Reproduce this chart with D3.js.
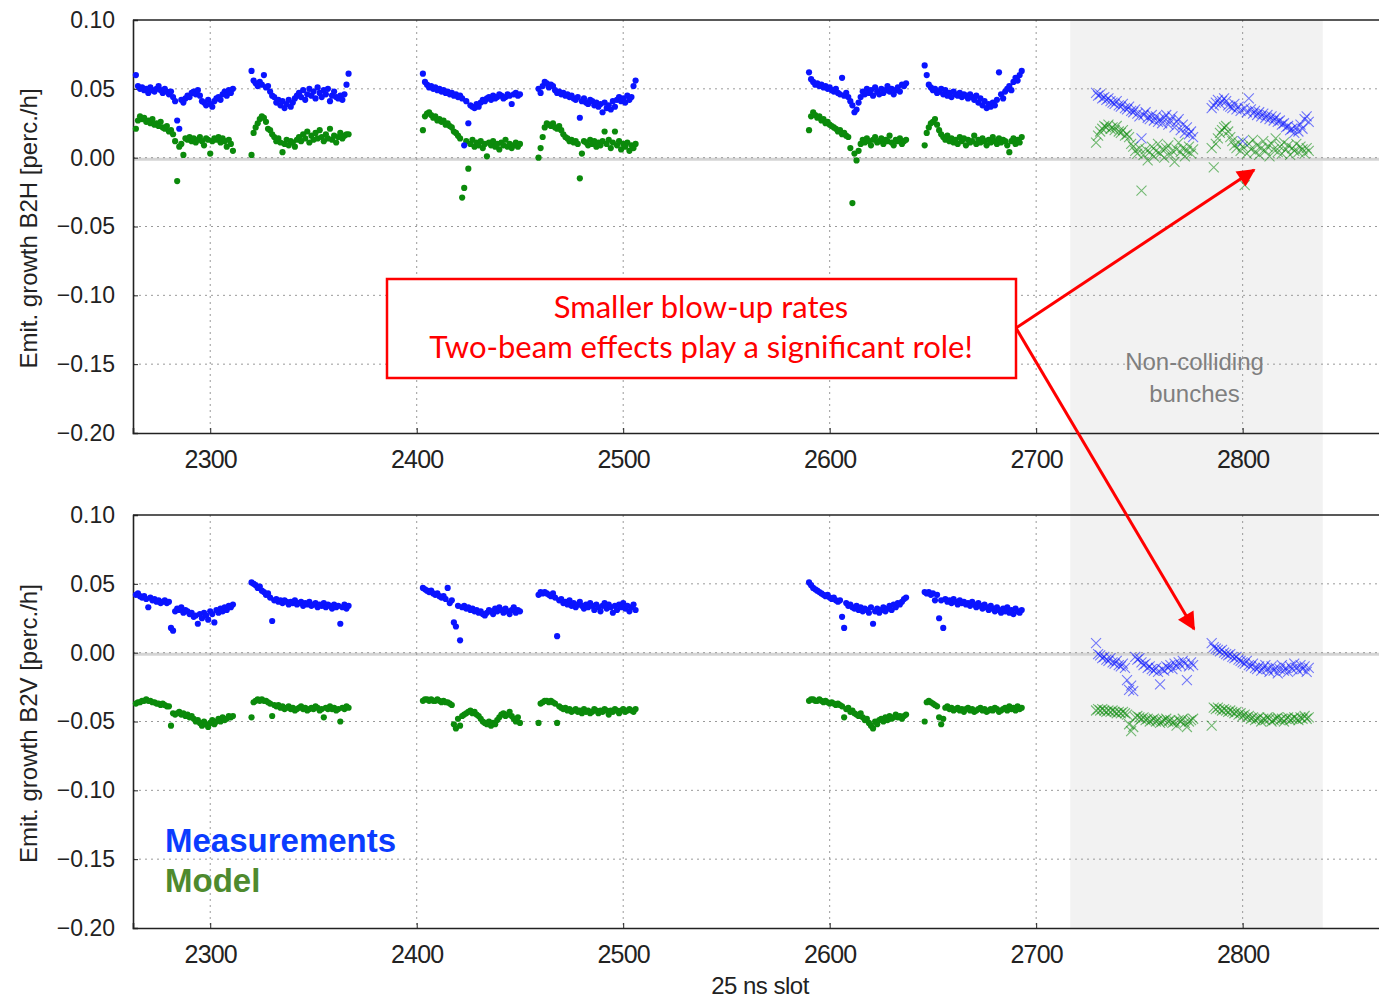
<!DOCTYPE html>
<html><head><meta charset="utf-8">
<script src="https://cdn.jsdelivr.net/npm/d3@7"></script>
<style>
html,body{margin:0;padding:0;background:#fff;}
svg{display:block;}
</style>
</head><body>
<svg id="chart" width="1379" height="1000"></svg>
<script>
// ---------------- DATA (values in 1e-3 perc./h) ----------------
const trainStarts = [2264, 2320, 2403, 2459, 2590, 2646, 2729, 2785];
const nonCollidingTrains = [6, 7];
const shadeSlots = [2716.5, 2838.8];
const xTicks = [2300, 2400, 2500, 2600, 2700, 2800];
const yTicks = [0.10, 0.05, 0.00, -0.05, -0.10, -0.15, -0.20];
const xLabel = "25 ns slot";
const yLabelTop = "Emit. growth B2H [perc./h]";
const yLabelBottom = "Emit. growth B2V [perc./h]";
const legendLabels = ["Measurements", "Model"];
const noteLines = ["Smaller blow-up rates", "Two-beam effects play a significant role!"];
const shadeLines = ["Non-colliding", "bunches"];

const b2hMeas = [
 [60,52,50,51,49,50,47,51,49,48,50,52,49,47,50,48,46,48,44,41,27,21,42,40,43,45,44,47,48,46,49,45,41,40,38,42,39,37,41,43,44,42,46,48,45,49,47,50],
 [63,56,54,52,55,53,60,51,52,48,45,44,40,42,38,41,36,39,42,37,40,43,45,47,44,49,42,46,50,45,48,43,51,47,44,49,46,50,41,45,48,44,43,45,42,46,53,61],
 [61,55,53,51,52,50,51,49,50,48,49,47,48,46,47,45,46,44,45,43,9,41,25,38,37,36,39,37,40,42,41,43,44,42,45,43,44,46,45,43,44,46,45,39,46,47,45,46],
 [50,47,52,55,54,51,53,52,49,47,48,46,47,45,46,44,45,43,42,44,29,41,43,40,39,42,41,38,40,37,39,33,40,36,38,35,41,37,42,44,41,43,40,45,42,44,52,56],
 [62,57,55,53,54,52,53,51,52,50,51,49,48,50,47,46,58,45,47,44,41,38,33,35,40,44,48,46,50,47,49,45,51,48,46,50,47,49,52,48,50,46,49,51,48,53,52,54],
 [67,60,53,51,49,50,47,48,50,46,49,45,47,44,48,46,45,47,44,46,45,43,46,44,42,45,40,43,38,41,36,39,37,40,38,42,62,46,43,48,50,52,49,55,58,56,60,63],
 [47,45,46,43,44,42,43,41,40,39,41,38,37,39,36,35,37,34,33,35,32,30,14,31,33,29,28,31,27,30,26,28,25,29,31,24,27,30,22,26,28,20,24,18,22,17,19,15],
 [36,38,40,42,39,41,43,41,38,37,36,39,35,37,34,12,36,33,43,35,32,34,31,33,30,32,29,31,28,30,27,29,26,27,24,25,22,23,20,21,18,22,19,24,21,28,30,26]
];
const b2hModel = [
 [21,27,30,28,29,26,27,25,28,24,25,23,26,22,21,23,19,20,17,12,-17,8,10,2,14,13,15,12,14,11,13,15,12,9,14,13,3,12,14,13,15,11,14,12,8,13,10,5],
 [2,18,22,25,28,30,29,26,21,20,17,15,12,14,11,4,10,13,9,12,11,8,13,15,12,17,14,19,11,16,13,18,14,20,15,12,17,14,21,13,16,11,15,18,14,16,17,17],
 [20,30,32,33,31,29,30,27,28,26,27,24,25,23,22,19,18,16,14,-29,-22,12,-8,10,13,8,11,9,12,7,10,1,11,9,12,8,10,6,11,9,13,8,10,7,9,11,8,10],
 [0,7,15,22,25,24,23,25,22,21,23,20,17,15,14,12,13,11,12,10,-15,3,12,11,9,13,10,12,8,11,9,12,19,10,13,7,11,19,9,12,6,10,8,11,5,9,7,10],
 [20,30,33,31,29,30,27,28,25,26,24,23,22,21,19,20,17,18,16,15,7,-33,3,-2,5,10,13,11,14,12,9,13,15,11,12,14,10,13,12,16,11,9,13,12,14,10,12,13],
 [9,18,22,25,26,28,24,20,17,15,13,16,12,14,11,13,10,15,12,14,9,13,11,12,16,10,13,11,14,12,9,13,11,15,12,10,14,11,13,12,9,4,12,14,10,13,11,15],
 [11,16,19,21,23,22,24,21,22,20,23,19,18,20,16,17,15,10,8,5,3,7,-24,2,6,-2,4,8,1,5,10,3,6,0,7,9,2,5,-3,6,11,4,7,1,5,8,3,6],
 [7,-7,10,14,18,20,22,23,19,15,12,9,7,11,5,8,-20,3,10,6,13,4,9,2,7,12,5,8,1,10,6,14,4,8,3,11,6,9,2,7,5,10,4,8,6,3,7,5]
];
const b2vMeas = [
 [42,43,41,40,41,39,33,40,38,39,37,38,36,37,38,36,37,18,16,30,32,31,33,29,31,30,28,29,26,27,21,28,25,29,27,24,30,28,22,31,29,32,30,33,31,34,33,35],
 [51,50,49,47,48,45,44,42,43,40,23,38,39,37,38,36,38,37,35,37,36,38,35,36,37,34,36,35,37,34,35,36,33,35,34,36,33,35,34,32,35,33,34,21,33,35,32,34],
 [47,46,45,44,45,43,42,43,41,40,41,39,47,36,38,22,19,34,9,33,34,32,33,31,32,30,31,29,30,28,27,29,31,30,28,32,30,33,31,29,32,30,28,31,33,29,31,30],
 [42,44,43,44,43,42,41,43,40,12,38,39,36,37,35,38,34,36,33,35,37,34,32,35,33,36,34,31,35,33,30,34,36,32,35,33,29,34,31,35,33,36,32,34,30,33,35,31],
 [51,49,47,46,45,44,43,42,41,42,40,39,40,38,37,38,26,18,36,34,35,33,32,34,31,33,30,32,31,29,33,21,30,32,29,31,33,30,32,34,31,35,33,36,35,37,39,40],
 [44,43,44,42,43,38,42,25,38,18,39,37,38,36,39,37,35,38,36,37,35,36,34,37,35,33,36,34,32,35,33,31,34,32,30,33,31,29,32,30,33,29,31,28,32,30,29,31],
 [7,-1,-2,-4,-3,-5,-6,-4,-7,-8,-6,-9,-10,-8,-11,-20,-27,-24,-28,-3,-5,-4,-7,-9,-8,-11,-10,-12,-13,-11,-14,-23,-12,-13,-10,-11,-9,-12,-8,-10,-7,-9,-6,-8,-20,-10,-7,-9],
 [7,4,3,2,1,2,0,-1,-2,-1,-3,-4,-3,-5,-6,-7,-8,-6,-9,-10,-8,-11,-12,-10,-13,-11,-9,-12,-14,-10,-13,-11,-15,-12,-9,-13,-11,-14,-10,-12,-8,-11,-13,-9,-12,-10,-14,-11]
];
const b2vModel = [
 [-37,-36,-36,-35,-35,-34,-35,-35,-36,-36,-37,-37,-38,-37,-38,-39,-39,-53,-44,-45,-44,-43,-45,-44,-46,-45,-47,-46,-48,-50,-49,-51,-53,-50,-52,-54,-51,-49,-52,-50,-48,-50,-47,-49,-48,-46,-47,-46],
 [-47,-36,-35,-34,-35,-34,-35,-35,-36,-37,-46,-38,-39,-38,-40,-39,-41,-40,-39,-41,-40,-42,-41,-40,-39,-41,-40,-42,-41,-40,-41,-39,-40,-42,-41,-47,-40,-41,-39,-41,-40,-42,-41,-50,-40,-41,-39,-40],
 [-35,-34,-34,-35,-34,-35,-35,-34,-35,-36,-35,-36,-36,-37,-38,-52,-55,-48,-53,-46,-45,-44,-43,-42,-44,-43,-45,-46,-48,-50,-51,-52,-50,-53,-51,-52,-49,-47,-45,-44,-46,-45,-43,-46,-48,-50,-47,-51],
 [-51,-37,-36,-35,-35,-36,-35,-36,-37,-51,-39,-40,-41,-40,-42,-41,-43,-42,-41,-43,-42,-44,-41,-43,-42,-44,-43,-41,-42,-44,-42,-43,-41,-42,-45,-42,-43,-41,-42,-44,-42,-41,-43,-42,-41,-42,-43,-41],
 [-35,-34,-34,-35,-35,-34,-35,-36,-35,-36,-37,-36,-37,-38,-37,-38,-39,-47,-41,-40,-43,-42,-44,-45,-46,-44,-47,-49,-48,-51,-53,-55,-50,-52,-49,-48,-50,-47,-49,-46,-48,-47,-45,-47,-46,-48,-46,-45],
 [-50,-36,-35,-36,-37,-38,-39,-47,-52,-48,-40,-39,-41,-40,-42,-41,-40,-42,-41,-43,-41,-40,-42,-41,-43,-42,-41,-40,-42,-41,-43,-42,-41,-42,-40,-41,-43,-42,-41,-40,-42,-39,-41,-40,-42,-39,-41,-40],
 [-42,-41,-42,-41,-42,-43,-42,-43,-42,-43,-44,-43,-44,-43,-44,-45,-52,-57,-54,-47,-46,-47,-48,-47,-49,-48,-50,-49,-48,-50,-49,-51,-50,-49,-48,-50,-49,-51,-50,-53,-49,-50,-48,-51,-54,-50,-49,-48],
 [-53,-40,-41,-40,-41,-42,-41,-42,-43,-42,-43,-44,-43,-45,-44,-46,-45,-47,-46,-48,-47,-49,-48,-47,-50,-48,-49,-47,-48,-50,-49,-48,-47,-49,-48,-50,-48,-47,-49,-48,-47,-48,-49,-47,-48,-46,-48,-47]
];

// ---------------- DRAWING ----------------
const svg = d3.select("#chart");
const W = 1379;
const left = 133;
const x = d3.scaleLinear().domain([2262.6, 2867]).range([left, W + 2]);
const panels = [
  {top: 20, bottom: 433, meas: b2hMeas, model: b2hModel, label: yLabelTop},
  {top: 515, bottom: 928, meas: b2vMeas, model: b2vModel, label: yLabelBottom}
];
const blue = "#0a14ff", green = "#0b8a0b";
const tickFont = "'Liberation Sans', Arial, sans-serif";

// shaded non-colliding region (spans both panels)
svg.append("rect")
  .attr("x", x(shadeSlots[0])).attr("y", panels[0].top)
  .attr("width", x(shadeSlots[1]) - x(shadeSlots[0]))
  .attr("height", panels[1].bottom - panels[0].top)
  .attr("fill", "#f2f2f2");

function toPoints(arr) {
  const pts = [];
  arr.forEach((vals, t) => vals.forEach((v, i) => pts.push({slot: trainStarts[t] + i, v: v / 1000, nc: nonCollidingTrains.includes(t)})));
  return pts;
}

panels.forEach((p, pi) => {
  const y = d3.scaleLinear().domain([-0.2, 0.1]).range([p.bottom, p.top]);
  const g = svg.append("g");

  // zero band
  g.append("line").attr("x1", left).attr("x2", W).attr("y1", y(0) + 1.5).attr("y2", y(0) + 1.5)
    .attr("stroke", "#d4d4d4").attr("stroke-width", 3);

  // grid
  g.selectAll(".gy").data(yTicks.slice(1, -1)).join("line")
    .attr("x1", left).attr("x2", W).attr("y1", d => y(d)).attr("y2", d => y(d))
    .attr("stroke", "#9a9a9a").attr("stroke-width", 1).attr("stroke-dasharray", "2,4");
  g.selectAll(".gx").data(xTicks).join("line")
    .attr("x1", d => x(d)).attr("x2", d => x(d)).attr("y1", p.top).attr("y2", p.bottom)
    .attr("stroke", "#9a9a9a").attr("stroke-width", 1).attr("stroke-dasharray", "2,4");

  // axes via d3 axis generators
  const yAxis = d3.axisLeft(y).tickValues(yTicks).tickFormat(d3.format(".2f")).tickSize(-5).tickPadding(18);
  const ya = g.append("g").attr("transform", `translate(${left},0)`).call(yAxis);
  ya.select(".domain").attr("stroke", "#222").attr("stroke-width", 1.6);
  ya.selectAll(".tick line").attr("stroke", "#222");
  ya.selectAll(".tick text").attr("font-family", tickFont).attr("font-size", 23).attr("fill", "#222");

  const xAxis = d3.axisBottom(x).tickValues(xTicks).tickFormat(d3.format("d")).tickSize(-5).tickPadding(17);
  const xa = g.append("g").attr("transform", `translate(0,${p.bottom})`).call(xAxis);
  xa.select(".domain").attr("stroke", "#222").attr("stroke-width", 1.6);
  xa.selectAll(".tick line").attr("stroke", "#222");
  xa.selectAll(".tick text").attr("font-family", tickFont).attr("font-size", 25).attr("fill", "#222").attr("letter-spacing", -0.8);

  // top spine
  g.append("line").attr("x1", left).attr("x2", W).attr("y1", p.top).attr("y2", p.top)
    .attr("stroke", "#222").attr("stroke-width", 1.4);

  // y label
  g.append("text").attr("transform", `translate(37,${(p.top + p.bottom) / 2 + 2}) rotate(-90)`)
    .attr("text-anchor", "middle").attr("font-family", tickFont).attr("font-size", 24).attr("fill", "#222")
    .text(p.label);

  // points
  const meas = toPoints(p.meas), model = toPoints(p.model);
  [[model, green], [meas, blue]].forEach(([pts, col]) => {
    g.selectAll(null).data(pts.filter(d => !d.nc)).join("circle")
      .attr("cx", d => x(d.slot)).attr("cy", d => y(d.v)).attr("r", 3.1).attr("fill", col);
    g.selectAll(null).data(pts.filter(d => d.nc)).join("path")
      .attr("transform", d => `translate(${x(d.slot)},${y(d.v)})`)
      .attr("d", "M-5,-5L5,5M-5,5L5,-5")
      .attr("stroke", col).attr("stroke-width", 1.1).attr("fill", "none").attr("opacity", 0.55);
  });
});

// x label
svg.append("text").attr("x", 760).attr("y", 994).attr("text-anchor", "middle")
  .attr("font-family", tickFont).attr("font-size", 24).attr("fill", "#222").attr("letter-spacing", -0.5).text(xLabel);

// non-colliding text
const ncx = (x(shadeSlots[0]) + x(shadeSlots[1])) / 2 - 2;
shadeLines.forEach((t, i) => svg.append("text").attr("x", ncx).attr("y", 370 + i * 32).attr("text-anchor", "middle")
  .attr("font-family", tickFont).attr("font-size", 24).attr("fill", "#7f7f7f").text(t));

// legend
svg.append("text").attr("x", 165).attr("y", 852).attr("font-family", tickFont).attr("font-weight", "bold")
  .attr("font-size", 33).attr("fill", "#0a3cff").text(legendLabels[0]);
svg.append("text").attr("x", 165).attr("y", 892).attr("font-family", tickFont).attr("font-weight", "bold")
  .attr("font-size", 33).attr("fill", "#4e8a2e").text(legendLabels[1]);

// annotation arrows
const defs = svg.append("defs");
defs.append("marker").attr("id", "ah").attr("viewBox", "0 0 10 10").attr("refX", 9).attr("refY", 5)
  .attr("markerWidth", 7).attr("markerHeight", 6).attr("markerUnits", "strokeWidth").attr("orient", "auto")
  .append("path").attr("d", "M0,0L10,5L0,10Z").attr("fill", "#ff0000");
[[1254, 170], [1194, 629]].forEach(([tx, ty]) => svg.append("line")
  .attr("x1", 1016).attr("y1", 328).attr("x2", tx).attr("y2", ty)
  .attr("stroke", "#ff0000").attr("stroke-width", 3).attr("marker-end", "url(#ah)"));

// annotation box
svg.append("rect").attr("x", 387).attr("y", 279).attr("width", 629).attr("height", 99)
  .attr("fill", "#fff").attr("stroke", "#ff0000").attr("stroke-width", 2.5);
noteLines.forEach((t, i) => svg.append("text").attr("x", 701).attr("y", 318 + i * 40).attr("text-anchor", "middle")
  .attr("font-family", "Lato, 'Open Sans', sans-serif").attr("font-size", 31).attr("fill", "#ff0000").text(t));
</script>
</body></html>
